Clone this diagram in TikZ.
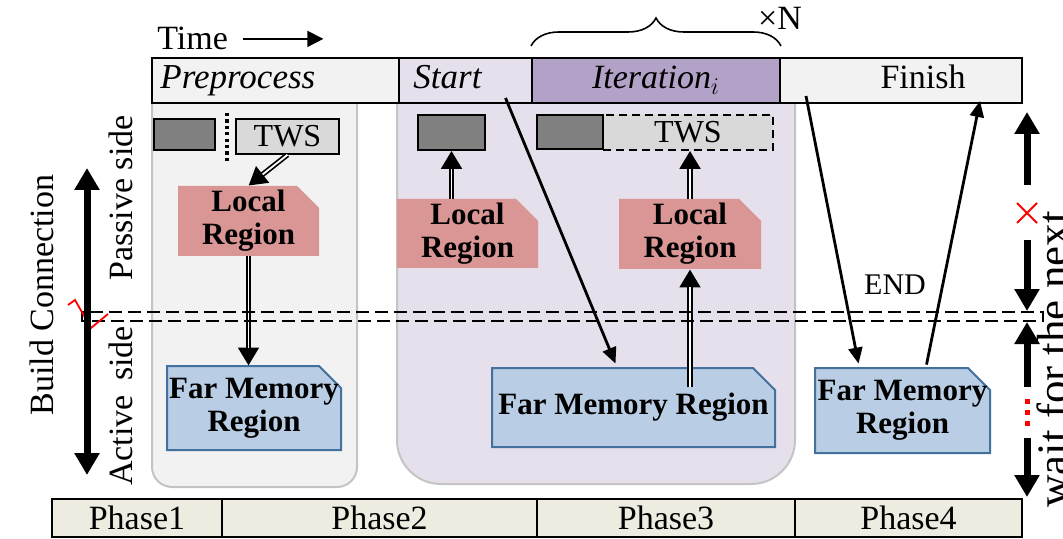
\documentclass[tikz,border=0pt]{standalone}
\usepackage{fontspec}
\setmainfont{Liberation Serif}
\usetikzlibrary{arrows.meta,decorations.pathreplacing,calc}
\definecolor{barfill}{HTML}{F2F2F2}
\definecolor{startfill}{HTML}{E5E0EC}
\definecolor{iterfill}{HTML}{B3A2C7}
\definecolor{phasefill}{HTML}{EEECE1}
\definecolor{panelline}{HTML}{C4C4C4}
\definecolor{blkfill}{HTML}{808080}
\definecolor{twsfill}{HTML}{D9D9D9}
\definecolor{localfill}{HTML}{D99694}
\definecolor{farfill}{HTML}{B9CDE5}
\definecolor{farline}{HTML}{41719C}
\newcommand{\bigfs}{\fontsize{17}{20}\selectfont}
% region box with a cut top right corner: name, style, text, x, y, width, height
\newcommand{\regbox}[7]{%
  \path[#2] (#4-#6/2,#5+#7/2) -- (#4-#6/2,#5-#7/2) -- (#4+#6/2-22,#5-#7/2)
    -- (#4+#6/2,#5-#7/2+22) -- (#4+#6/2,#5+#7/2) -- cycle;
  \node[regtext,minimum width=#6*0.5pt,minimum height=#7*0.5pt] (#1) at (#4,#5) {#3};}
\begin{document}
\begin{tikzpicture}[x=0.5pt,y=-0.5pt,
  every node/.style={inner sep=0pt,font=\bigfs},
  cell/.style={draw,line width=1pt,minimum height=22.5pt},
  phasebox/.style={draw,line width=1pt,fill=phasefill,minimum height=19pt},
  panel/.style={draw=panelline,line width=1pt},
  blk/.style={draw,line width=0.8pt,fill=blkfill},
  tws/.style={draw,line width=0.8pt,fill=twsfill,font=\fontsize{16}{18}\selectfont},
  regtext/.style={align=center,font=\bfseries\fontsize{15.5}{16.5}\selectfont},
  local/.style={fill=localfill},
  far/.style={fill=farfill,draw=farline,line width=1pt},
  arr/.style={line width=1.4pt,-{Triangle[length=8pt,width=7pt]}},
  tarr/.style={line width=0.8pt,-{Triangle[length=8pt,width=8pt]}},
  dbl/.style={line width=2.6pt,-{Triangle[length=9pt,width=10pt]},
    postaction={draw=white,line width=0.9pt,shorten >=9pt,-}},
  bigarr/.style={line width=3.5pt,-{Triangle[length=11pt,width=12pt]}},
  divide/.style={line width=1pt,dash pattern=on 6.5pt off 3pt}]
\useasboundingbox (0,0) rectangle (1063,539);

% background panels
\draw[panel,fill=barfill,rounded corners=10pt] (152,60) -- (152,487) -- (357,487) -- (357,60);
\draw[panel,fill=startfill,rounded corners=22pt] (397,60) -- (397,484) -- (795,484) -- (795,60);

% time line and top bar
\node[anchor=base west] (time) at (157,50) {Time};
\draw[tarr] ([xshift=7.5pt]time.east) -- ([xshift=47.5pt]time.east);
\node[cell,fill=barfill,minimum width=123.5pt] (pre) at (275.5,80.5) {};
\node[cell,fill=startfill,minimum width=66.5pt] (start) at (465.5,80.5) {};
\node[cell,fill=iterfill,minimum width=124pt] (iter) at (656,80.5) {};
\node[cell,fill=barfill,minimum width=121pt] (fin) at (901,80.5) {};
\node[anchor=base west,font=\itshape\fontsize{17.5}{20}\selectfont] (pretext) at (160,89) {Preprocess};
\node[anchor=base west,font=\itshape\fontsize{17.5}{20}\selectfont] (starttext) at (413,89) {Start};
\node[anchor=base] (itertext) at (656,89) {\textit{Iteration}$_i$};
\node[anchor=base] (fintext) at (923,89) {Finish};
\draw[decorate,decoration={brace,amplitude=14pt},line width=0.8pt]
  ([yshift=5.5pt]iter.north west) -- ([yshift=5.5pt]iter.north east);
\node (times) at (780,18) {×N};

% phase bar
\node[phasebox,minimum width=85pt] (ph1) at (137,518) {Phase1};
\node[phasebox,minimum width=157.5pt] (ph2) at (379.5,518) {Phase2};
\node[phasebox,minimum width=129pt] (ph3) at (666,518) {Phase3};
\node[phasebox,minimum width=113.5pt] (ph4) at (908.5,518) {Phase4};

% phase 1
\node[blk,minimum width=30.5pt,minimum height=15.5pt] (dkA) at (184.5,134.5) {};
\draw[line width=1.6pt,dash pattern=on 1.6pt off 1.6pt] (227,113) -- (227,162);
\node[tws,minimum width=51.5pt,minimum height=17.5pt] (twsA) at (287.5,136.5) {TWS};
\regbox{locA}{local}{Local\\Region}{248.5}{221}{141}{70}
\regbox{farA}{far}{Far Memory\\Region}{254}{408}{174}{84}
\draw[dbl] (twsA.south) -- (locA.north);
\draw[dbl] (locA.south) -- (locA.south |- farA.north);

% phase 2 and 3
\node[blk,minimum width=33.5pt,minimum height=17.5pt] (dkB) at (451.5,132.5) {};
\regbox{locB}{local}{Local\\Region}{467.5}{233.5}{141}{69}
\node[tws,dash pattern=on 4pt off 2.5pt,minimum width=85pt,minimum height=17.5pt] (twsC) at (688,132.5) {TWS};
\node[blk,minimum width=33pt,minimum height=17pt] (dkC) at (570,132) {};
\regbox{locC}{local}{Local\\Region}{690}{234}{142}{70}
\regbox{farC}{far}{Far Memory Region}{633.5}{407.5}{283}{79}
\draw[dbl] (dkB.south |- locB.north) -- (dkB.south);
\draw[dbl] (locC.north) -- (locC.north |- twsC.south);
\draw[dbl] ($(locC.south |- farC.north)+(0,19)$) -- (locC.south);
\draw[arr] ([xshift=20pt,yshift=3pt]start.south) -- ([xshift=-9pt,yshift=2pt]farC.north);

% phase 4
\regbox{farD}{far}{Far Memory\\Region}{902.5}{410.5}{175}{85}
\draw[arr] ([xshift=13.5pt,yshift=4pt]fin.south west) -- ([xshift=-22pt,yshift=2pt]farD.north);
\draw[arr] ([xshift=12pt,yshift=1.5pt]farD.north) -- ([xshift=39.5pt,yshift=1.5pt]fin.south);
\node[font=\fontsize{15}{17}\selectfont] (endlbl) at (895,285) {END};

% passive / active divide
\draw[divide] (82,312) rectangle (1043,321);

% left side
\draw[red,line width=0.9pt] (68,305) -- (75,300) -- (91,328) -- (108,314);
\coordinate (bcT) at (87,168);
\coordinate (bcB) at (87,475);
\draw[bigarr,{Triangle[length=11pt,width=12pt]}-{Triangle[length=11pt,width=12pt]}] (bcT) -- (bcB);
\node[rotate=90] (build) at (42,295) {Build Connection};
\node[rotate=90] (passive) at (121,198) {Passive side};
\node[rotate=90] (active) at (121,406) {Active\hspace{3pt} side};

% right side
\foreach \n/\a/\b in {1/185/112,2/240/311,3/387/322,4/438/497}{
  \coordinate (ws\n) at (1027,\a);
  \coordinate (we\n) at (1027,\b);
  \draw[bigarr] (ws\n) -- (we\n);
}
\draw[red,line width=1pt] (1017,203) -- (1037,223) (1017,223) -- (1037,203);
\foreach \y in {401,412,423}
  \fill[red] (1024.5,\y-2.5) rectangle (1029.5,\y+2.5);
\node[rotate=90,anchor=base west,font=\fontsize{22.5}{26}\selectfont] (wait) at (1068,508) {wait for the next};
\end{tikzpicture}
\end{document}
